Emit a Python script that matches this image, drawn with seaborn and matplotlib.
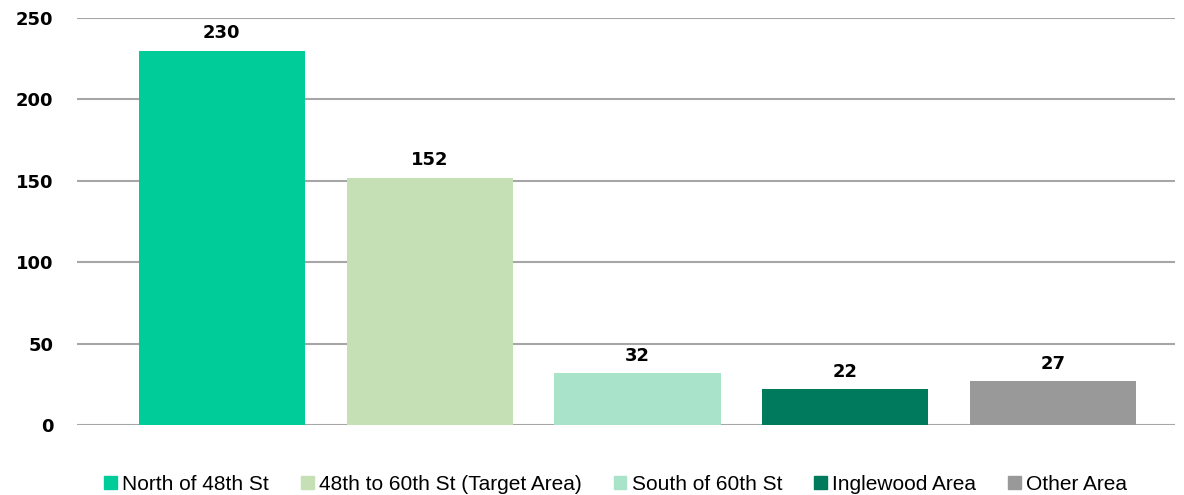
import pandas as pd
import matplotlib.pyplot as plt
import seaborn as sns

# Data
areas = ['North of 48th St', '48th to 60th St (Target Area)', 'South of 60th St',
         'Inglewood Area', 'Other Area']
counts = [230, 152, 32, 22, 27]
colors = ['#00CC99', '#C5E0B4', '#A9E3CA', '#007A5C', '#999999']
y_ticks = [0, 50, 100, 150, 200, 250]

df = pd.DataFrame({'area': areas, 'count': counts})

sns.set_style('white')
plt.rcParams['font.family'] = ['DejaVu Sans']

fig = plt.figure(figsize=(11.84, 4.95), dpi=100)
ax = fig.add_axes([77 / 1184, 70 / 495, 1098 / 1184, 407 / 495])

sns.barplot(data=df, x='area', y='count', hue='area', palette=colors,
            width=0.8, dodge=False, legend=False, ax=ax, saturation=1,
            linewidth=0)

# Data labels
for i, v in enumerate(counts):
    ax.text(i, v + 5, str(v), ha='center', va='bottom',
            fontsize=13, fontweight='bold', color='black')

ax.set_ylim(0, 250)
ax.set_yticks(y_ticks)
ax.set_yticklabels([str(t) for t in y_ticks], fontsize=13, fontweight='bold',
                   color='black')
ax.set_xlim(-0.697, 4.587)
ax.set_xticks([])
ax.set_xlabel('')
ax.set_ylabel('')
ax.yaxis.grid(True, color='#A6A6A6', linewidth=1.5)
ax.set_axisbelow(True)
ax.tick_params(axis='y', length=0, pad=17)
for s in ax.spines.values():
    s.set_visible(False)

# Legend at the bottom
handles = [plt.Rectangle((0, 0), 1, 1, color=c) for c in colors]
fig.legend(handles, areas, loc='center', bbox_to_anchor=(0.52, 0.022),
           ncol=5, frameon=False, handlelength=0.6, handleheight=0.6,
           handletextpad=0.25, columnspacing=1.55, labelcolor='black',
           prop={'family': 'Liberation Sans', 'size': 15})

fig.savefig('out.png', dpi=100)
